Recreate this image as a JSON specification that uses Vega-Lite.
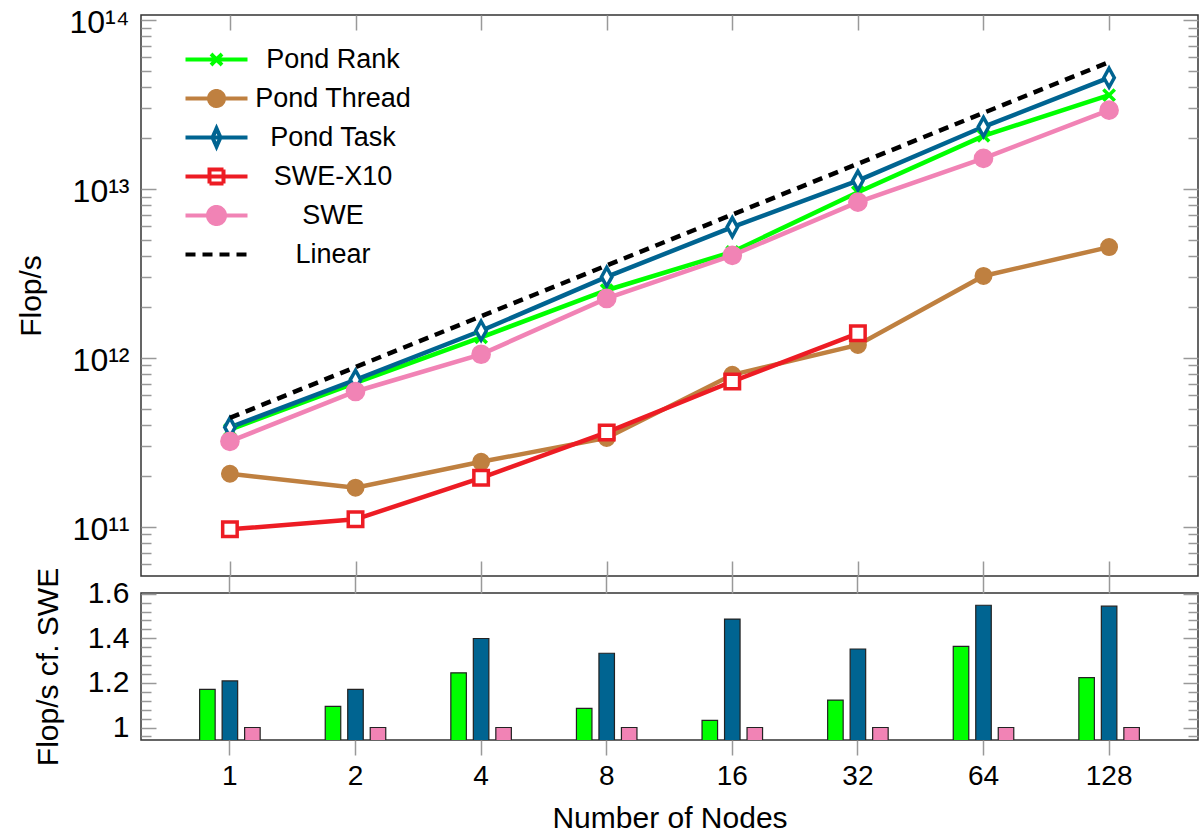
{
  "$schema": "https://vega.github.io/schema/vega-lite/v6.json",
  "background": "white",
  "padding": {"left": 15, "top": 6, "right": 4, "bottom": 0},
  "bounds": "flush",
  "spacing": 17,
  "resolve": {"scale": {"fill": "independent", "color": "independent", "stroke": "independent", "shape": "independent", "strokeDash": "independent"}},
  "config": {
    "font": "Liberation Sans",
    "view": {"stroke": "#333333", "strokeWidth": 1.5},
    "axis": {
      "domain": false,
      "grid": false,
      "tickColor": "#999999",
      "tickWidth": 1.5,
      "labelFont": "Liberation Sans",
      "labelFontSize": 28,
      "labelColor": "black",
      "labelOverlap": false,
      "titleFont": "Liberation Sans",
      "titleFontSize": 30,
      "titleFontWeight": "normal",
      "titleColor": "black"
    },
    "legend": {"labelFont": "Liberation Sans", "labelFontSize": 27, "labelColor": "black"}
  },
  "datasets": {
    "perf": [
      {"nodes": 1, "series": "Pond Rank", "flops": 3.75e11},
      {"nodes": 2, "series": "Pond Rank", "flops": 7.10e11},
      {"nodes": 4, "series": "Pond Rank", "flops": 1.32e12},
      {"nodes": 8, "series": "Pond Rank", "flops": 2.51e12},
      {"nodes": 16, "series": "Pond Rank", "flops": 4.23e12},
      {"nodes": 32, "series": "Pond Rank", "flops": 9.55e12},
      {"nodes": 64, "series": "Pond Rank", "flops": 2.06e13},
      {"nodes": 128, "series": "Pond Rank", "flops": 3.59e13},
      {"nodes": 1, "series": "Pond Thread", "flops": 2.055e11},
      {"nodes": 2, "series": "Pond Thread", "flops": 1.70e11},
      {"nodes": 4, "series": "Pond Thread", "flops": 2.42e11},
      {"nodes": 8, "series": "Pond Thread", "flops": 3.35e11},
      {"nodes": 16, "series": "Pond Thread", "flops": 7.92e11},
      {"nodes": 32, "series": "Pond Thread", "flops": 1.19e12},
      {"nodes": 64, "series": "Pond Thread", "flops": 3.05e12},
      {"nodes": 128, "series": "Pond Thread", "flops": 4.52e12},
      {"nodes": 1, "series": "Pond Task", "flops": 3.87e11},
      {"nodes": 2, "series": "Pond Task", "flops": 7.40e11},
      {"nodes": 4, "series": "Pond Task", "flops": 1.445e12},
      {"nodes": 8, "series": "Pond Task", "flops": 3.01e12},
      {"nodes": 16, "series": "Pond Task", "flops": 5.94e12},
      {"nodes": 32, "series": "Pond Task", "flops": 1.119e13},
      {"nodes": 64, "series": "Pond Task", "flops": 2.33e13},
      {"nodes": 128, "series": "Pond Task", "flops": 4.55e13},
      {"nodes": 1, "series": "SWE-X10", "flops": 9.64e10},
      {"nodes": 2, "series": "SWE-X10", "flops": 1.104e11},
      {"nodes": 4, "series": "SWE-X10", "flops": 1.945e11},
      {"nodes": 8, "series": "SWE-X10", "flops": 3.61e11},
      {"nodes": 16, "series": "SWE-X10", "flops": 7.23e11},
      {"nodes": 32, "series": "SWE-X10", "flops": 1.395e12},
      {"nodes": 1, "series": "SWE", "flops": 3.20e11},
      {"nodes": 2, "series": "SWE", "flops": 6.31e11},
      {"nodes": 4, "series": "SWE", "flops": 1.048e12},
      {"nodes": 8, "series": "SWE", "flops": 2.244e12},
      {"nodes": 16, "series": "SWE", "flops": 4.04e12},
      {"nodes": 32, "series": "SWE", "flops": 8.34e12},
      {"nodes": 64, "series": "SWE", "flops": 1.515e13},
      {"nodes": 128, "series": "SWE", "flops": 2.925e13},
      {"nodes": 1, "series": "Linear", "flops": 4.4e11},
      {"nodes": 2, "series": "Linear", "flops": 8.8e11},
      {"nodes": 4, "series": "Linear", "flops": 1.76e12},
      {"nodes": 8, "series": "Linear", "flops": 3.52e12},
      {"nodes": 16, "series": "Linear", "flops": 7.04e12},
      {"nodes": 32, "series": "Linear", "flops": 1.408e13},
      {"nodes": 64, "series": "Linear", "flops": 2.816e13},
      {"nodes": 128, "series": "Linear", "flops": 5.632e13}
    ],
    "ratio": [
      {"nodes": 1, "series": "Pond Rank", "ratio": 1.171},
      {"nodes": 2, "series": "Pond Rank", "ratio": 1.095},
      {"nodes": 4, "series": "Pond Rank", "ratio": 1.245},
      {"nodes": 8, "series": "Pond Rank", "ratio": 1.086},
      {"nodes": 16, "series": "Pond Rank", "ratio": 1.032},
      {"nodes": 32, "series": "Pond Rank", "ratio": 1.123},
      {"nodes": 64, "series": "Pond Rank", "ratio": 1.364},
      {"nodes": 128, "series": "Pond Rank", "ratio": 1.224},
      {"nodes": 1, "series": "Pond Task", "ratio": 1.209},
      {"nodes": 2, "series": "Pond Task", "ratio": 1.171},
      {"nodes": 4, "series": "Pond Task", "ratio": 1.399},
      {"nodes": 8, "series": "Pond Task", "ratio": 1.333},
      {"nodes": 16, "series": "Pond Task", "ratio": 1.486},
      {"nodes": 32, "series": "Pond Task", "ratio": 1.352},
      {"nodes": 64, "series": "Pond Task", "ratio": 1.548},
      {"nodes": 128, "series": "Pond Task", "ratio": 1.544},
      {"nodes": 1, "series": "SWE", "ratio": 1.0},
      {"nodes": 2, "series": "SWE", "ratio": 1.0},
      {"nodes": 4, "series": "SWE", "ratio": 1.0},
      {"nodes": 8, "series": "SWE", "ratio": 1.0},
      {"nodes": 16, "series": "SWE", "ratio": 1.0},
      {"nodes": 32, "series": "SWE", "ratio": 1.0},
      {"nodes": 64, "series": "SWE", "ratio": 1.0},
      {"nodes": 128, "series": "SWE", "ratio": 1.0}
    ]
  },
  "vconcat": [
    {
      "width": 1057,
      "height": 561,
      "data": {"name": "perf"},
      "layer": [
        {
          "transform": [{"filter": "datum.series !== 'Linear'"}],
          "mark": {"type": "line", "strokeWidth": 4.5},
          "encoding": {
            "x": {"field": "nodes", "type": "ordinal", "scale": {"type": "point", "domain": [1, 2, 4, 8, 16, 32, 64, 128], "padding": 0.708},
                  "axis": {"orient": "bottom", "tickSize": -15, "labels": false, "title": null}},
            "y": {"field": "flops", "type": "quantitative", "scale": {"type": "log", "domain": [5.1e10, 1.07e14], "nice": false},
                  "axis": {"orient": "left",
                           "values": [6e10, 7e10, 8e10, 9e10, 1e11, 2e11, 3e11, 4e11, 5e11, 6e11, 7e11, 8e11, 9e11, 1e12, 2e12, 3e12, 4e12, 5e12, 6e12, 7e12, 8e12, 9e12, 1e13, 2e13, 3e13, 4e13, 5e13, 6e13, 7e13, 8e13, 9e13, 1e14],
                           "tickSize": {"condition": {"test": "abs(log(datum.value)/LN10 - round(log(datum.value)/LN10)) < 0.01", "value": -15}, "value": -10},
                           "labelExpr": "abs(log(datum.value)/LN10 - round(log(datum.value)/LN10)) < 0.01 ? ('10' + (round(log(datum.value)/LN10) == 11 ? '¹¹' : round(log(datum.value)/LN10) == 12 ? '¹²' : round(log(datum.value)/LN10) == 13 ? '¹³' : '¹⁴')) : ''",
                           "labelFontSize": 32,
                           "labelPadding": 27,
                           "labelOffset": 3,
                           "labelBaseline": "middle",
                           "title": "Flop/s", "titleX": -110, "titleY": 280.5, "titleAngle": -90, "titleBaseline": "middle", "titleAlign": "center"}},
            "color": {"field": "series", "type": "nominal",
                      "scale": {"domain": ["Pond Rank", "Pond Thread", "Pond Task", "SWE-X10", "SWE"], "range": ["#00ff00", "#bf8040", "#006491", "#ed1c24", "#f183b5"]},
                      "legend": null}
          }
        },
        {
          "transform": [{"filter": "datum.series === 'Pond Rank'"}],
          "mark": {"type": "point", "shape": "M-1,-1L1,1M-1,1L1,-1", "size": 130, "filled": false, "stroke": "#00ff00", "strokeWidth": 3.5, "opacity": 1},
          "encoding": {
            "x": {"field": "nodes", "type": "ordinal", "axis": null},
            "y": {"field": "flops", "type": "quantitative", "axis": null}
          }
        },
        {
          "transform": [{"filter": "datum.series === 'Pond Thread'"}],
          "mark": {"type": "point", "shape": "circle", "size": 270, "filled": true, "fill": "#bf8040", "stroke": "#bf8040", "strokeWidth": 1.5, "opacity": 1},
          "encoding": {
            "x": {"field": "nodes", "type": "ordinal", "axis": null},
            "y": {"field": "flops", "type": "quantitative", "axis": null}
          }
        },
        {
          "transform": [{"filter": "datum.series === 'Pond Task'"}],
          "mark": {"type": "point", "shape": "M0,-1L0.55,0L0,1L-0.55,0Z", "size": 360, "filled": true, "fill": "white", "stroke": "#006491", "strokeWidth": 3.5, "opacity": 1},
          "encoding": {
            "x": {"field": "nodes", "type": "ordinal", "axis": null},
            "y": {"field": "flops", "type": "quantitative", "axis": null}
          }
        },
        {
          "transform": [{"filter": "datum.series === 'SWE-X10'"}],
          "mark": {"type": "point", "shape": "square", "size": 210, "filled": true, "fill": "white", "stroke": "#ed1c24", "strokeWidth": 3.5, "opacity": 1},
          "encoding": {
            "x": {"field": "nodes", "type": "ordinal", "axis": null},
            "y": {"field": "flops", "type": "quantitative", "axis": null}
          }
        },
        {
          "transform": [{"filter": "datum.series === 'SWE'"}],
          "mark": {"type": "point", "shape": "circle", "size": 330, "filled": true, "fill": "#f183b5", "stroke": "#f183b5", "strokeWidth": 1.5, "opacity": 1},
          "encoding": {
            "x": {"field": "nodes", "type": "ordinal", "axis": null},
            "y": {"field": "flops", "type": "quantitative", "axis": null}
          }
        },
        {
          "transform": [{"filter": "datum.series === 'Linear'"}],
          "mark": {"type": "line", "strokeWidth": 4.5, "strokeDash": [10, 7], "color": "black"},
          "encoding": {
            "x": {"field": "nodes", "type": "ordinal", "axis": {"orient": "top", "tickSize": -15, "labels": false, "title": null}},
            "y": {"field": "flops", "type": "quantitative",
                  "axis": {"orient": "right",
                           "values": [6e10, 7e10, 8e10, 9e10, 1e11, 2e11, 3e11, 4e11, 5e11, 6e11, 7e11, 8e11, 9e11, 1e12, 2e12, 3e12, 4e12, 5e12, 6e12, 7e12, 8e12, 9e12, 1e13, 2e13, 3e13, 4e13, 5e13, 6e13, 7e13, 8e13, 9e13, 1e14],
                           "tickSize": {"condition": {"test": "abs(log(datum.value)/LN10 - round(log(datum.value)/LN10)) < 0.01", "value": -15}, "value": -10},
                           "labels": false, "title": null}}
          }
        },
        {
          "transform": [{"filter": "datum.flops < 0"}],
          "mark": {"type": "point", "filled": false, "strokeWidth": 4, "size": 400, "opacity": 1},
          "encoding": {
            "stroke": {"field": "series", "type": "nominal",
                       "scale": {"domain": ["Pond Rank", "Pond Thread", "Pond Task", "SWE-X10", "SWE", "Linear"], "range": ["#00ff00", "#bf8040", "#006491", "#ed1c24", "#f183b5", "black"]},
                       "legend": {"title": null, "orient": "none", "legendX": 62, "legendY": 31, "padding": 0,
                                  "symbolSize": 400, "symbolStrokeWidth": 4, "symbolOpacity": 1, "symbolFillColor": "white", "symbolStrokeColor": "black",
                                  "labelAlign": "center", "labelOffset": 103, "labelLimit": 400, "rowPadding": 4}},
            "fill": {"field": "series", "type": "nominal",
                     "scale": {"domain": ["Pond Rank", "Pond Thread", "Pond Task", "SWE-X10", "SWE", "Linear"], "range": ["transparent", "#bf8040", "white", "white", "#f183b5", "transparent"]},
                     "legend": {"title": null, "orient": "none", "legendX": 62, "legendY": 31, "padding": 0,
                                "symbolSize": 400, "symbolStrokeWidth": 4, "symbolOpacity": 1, "symbolFillColor": "white", "symbolStrokeColor": "black",
                                "labelAlign": "center", "labelOffset": 103, "labelLimit": 400, "rowPadding": 4}},
            "shape": {"field": "series", "type": "nominal",
                      "scale": {"domain": ["Pond Rank", "Pond Thread", "Pond Task", "SWE-X10", "SWE", "Linear"],
                                "range": ["M0,-0.9M0,0.9M-3.1,0L3.1,0M-0.55,-0.55L0.55,0.55M-0.55,0.55L0.55,-0.55",
                                          "M0,-0.9M0,0.9M-3.1,0L3.1,0M-0.75,0A0.75,0.75,0,1,0,0.75,0A0.75,0.75,0,1,0,-0.75,0Z",
                                          "M0,-0.9M0,0.9M-3.1,0L3.1,0M0,-0.9L0.4,0L0,0.9L-0.4,0Z",
                                          "M0,-0.9M0,0.9M-3.1,0L3.1,0M-0.7,-0.7L0.7,-0.7L0.7,0.7L-0.7,0.7Z",
                                          "M0,-0.9M0,0.9M-3.1,0L3.1,0M-0.85,0A0.85,0.85,0,1,0,0.85,0A0.85,0.85,0,1,0,-0.85,0Z",
                                          "M0,-0.9M0,0.9M-3.1,0L3.1,0"]},
                      "legend": {"title": null, "orient": "none", "legendX": 62, "legendY": 31, "padding": 0,
                                 "symbolSize": 400, "symbolStrokeWidth": 4, "symbolOpacity": 1, "symbolFillColor": "white", "symbolStrokeColor": "black",
                                 "labelAlign": "center", "labelOffset": 103, "labelLimit": 400, "rowPadding": 4}},
            "strokeDash": {"field": "series", "type": "nominal",
                           "scale": {"domain": ["Pond Rank", "Pond Thread", "Pond Task", "SWE-X10", "SWE", "Linear"], "range": [[1, 0], [1, 0], [1, 0], [1, 0], [1, 0], [10, 7]]},
                           "legend": {"title": null, "orient": "none", "legendX": 62, "legendY": 31, "padding": 0,
                                      "symbolSize": 400, "symbolStrokeWidth": 4, "symbolOpacity": 1, "symbolFillColor": "white", "symbolStrokeColor": "black",
                                      "labelAlign": "center", "labelOffset": 103, "labelLimit": 400, "rowPadding": 4}}
          }
        }
      ],
      "resolve": {"axis": {"x": "independent", "y": "independent"}}
    },
    {
      "width": 1057,
      "height": 147,
      "data": {"name": "ratio"},
      "layer": [
        {
          "mark": {"type": "bar", "clip": true, "stroke": "#222222", "strokeWidth": 1.2},
          "encoding": {
            "x": {"field": "nodes", "type": "ordinal",
                  "scale": {"type": "band", "domain": [1, 2, 4, 8, 16, 32, 64, 128], "paddingInner": 0.4626, "paddingOuter": 0.439},
                  "axis": {"orient": "bottom", "tickSize": 15, "labelPadding": 7, "labelAngle": 0,
                           "title": "Number of Nodes", "titleX": 528.5, "titleY": 87, "titleBaseline": "alphabetic", "titleAlign": "center"}},
            "xOffset": {"field": "series", "type": "nominal", "scale": {"domain": ["Pond Rank", "Pond Task", "SWE"], "paddingInner": 0.31, "paddingOuter": 0.155}},
            "y": {"field": "ratio", "type": "quantitative", "scale": {"domain": [0.944, 1.603], "zero": false, "nice": false},
                  "axis": {"orient": "left",
                           "values": [0.96, 1, 1.04, 1.08, 1.12, 1.16, 1.2, 1.24, 1.28, 1.32, 1.36, 1.4, 1.44, 1.48, 1.52, 1.56, 1.6],
                           "tickSize": {"condition": {"test": "abs(datum.value*5 - round(datum.value*5)) < 0.001", "value": -15}, "value": -10},
                           "labelExpr": "abs(datum.value*5 - round(datum.value*5)) < 0.001 ? format(datum.value, '.1~f') : ''",
                           "labelFontSize": 30,
                           "labelPadding": 27, "labelBaseline": "middle",
                           "title": "Flop/s cf. SWE", "titleX": -93, "titleY": 73.5, "titleAngle": -90, "titleBaseline": "middle", "titleAlign": "center"}},
            "fill": {"field": "series", "type": "nominal",
                     "scale": {"domain": ["Pond Rank", "Pond Task", "SWE"], "range": ["#00ff00", "#006491", "#f183b5"]},
                     "legend": null}
          }
        },
        {
          "mark": {"type": "point", "opacity": 0},
          "encoding": {
            "x": {"field": "nodes", "type": "ordinal", "axis": {"orient": "top", "tickSize": 17, "labels": false, "title": null}},
            "y": {"field": "ratio", "type": "quantitative",
                  "axis": {"orient": "right",
                           "values": [0.96, 1, 1.04, 1.08, 1.12, 1.16, 1.2, 1.24, 1.28, 1.32, 1.36, 1.4, 1.44, 1.48, 1.52, 1.56, 1.6],
                           "tickSize": {"condition": {"test": "abs(datum.value*5 - round(datum.value*5)) < 0.001", "value": -15}, "value": -10},
                           "labels": false, "title": null}}
          }
        }
      ],
      "resolve": {"axis": {"x": "independent", "y": "independent"}}
    }
  ]
}
